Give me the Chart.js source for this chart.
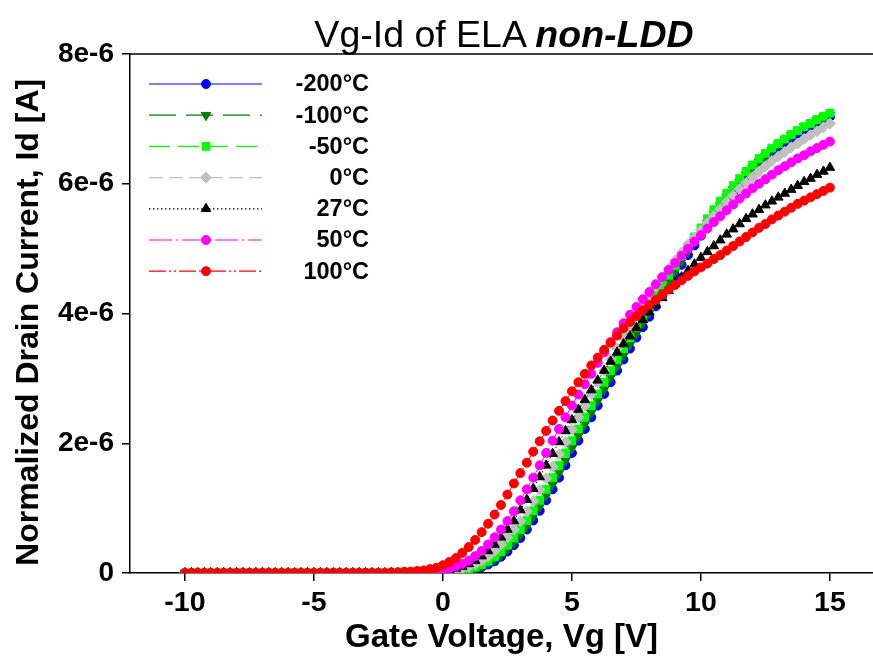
<!DOCTYPE html>
<html>
<head>
<meta charset="utf-8">
<title>Vg-Id of ELA non-LDD</title>
<script src="https://cdn.jsdelivr.net/npm/chart.js@4.4.1/dist/chart.umd.min.js"></script>
<style>
  body { margin: 0; background: #fff; }
  #wrap { position: relative; width: 873px; height: 664px; }
  canvas { display: block; }
  #title {
    position: absolute; left: 504px; top: 15px; transform: translateX(-50%);
    white-space: nowrap; color: #000;
    font: 37.5px 'Liberation Sans', Arial, sans-serif; line-height: 38px;
  }
  #title b { font-style: italic; }
</style>
</head>
<body>
<div id="wrap">
  <canvas id="chart" width="873" height="664"></canvas>
  <div id="title">Vg-Id of ELA <b>non-LDD</b></div>
</div>
<script>
// Gate voltage sweep [V]
const vg = [
  -10, -9.75, -9.5, -9.25, -9, -8.75, -8.5, -8.25,
  -8, -7.75, -7.5, -7.25, -7, -6.75, -6.5, -6.25,
  -6, -5.75, -5.5, -5.25, -5, -4.75, -4.5, -4.25,
  -4, -3.75, -3.5, -3.25, -3, -2.75, -2.5, -2.25,
  -2, -1.75, -1.5, -1.25, -1, -0.75, -0.5, -0.25,
  0, 0.25, 0.5, 0.75, 1, 1.25, 1.5, 1.75,
  2, 2.25, 2.5, 2.75, 3, 3.25, 3.5, 3.75,
  4, 4.25, 4.5, 4.75, 5, 5.25, 5.5, 5.75,
  6, 6.25, 6.5, 6.75, 7, 7.25, 7.5, 7.75,
  8, 8.25, 8.5, 8.75, 9, 9.25, 9.5, 9.75,
  10, 10.25, 10.5, 10.75, 11, 11.25, 11.5, 11.75,
  12, 12.25, 12.5, 12.75, 13, 13.25, 13.5, 13.75,
  14, 14.25, 14.5, 14.75, 15
];

// Normalized drain current, in units of 1e-6 A (one array per temperature)
const id_m200 = [
  0, 0, 0, 0, 0, 0, 0, 0,
  0, 0, 0, 0, 0, 0, 0, 0,
  0, 0, 0, 0, 0, 0, 0, 0,
  0, 0, 0, 0, 0, 0, 0, 0,
  0, 0, 0, 0, 0, 0, 0, 0,
  .01, .01, .02, .03, .04, .06, .09, .13,
  .18, .25, .33, .43, .54, .67, .81, .96,
  1.12, 1.29, 1.47, 1.66, 1.85, 2.04, 2.22, 2.40,
  2.58, 2.76, 2.94, 3.12, 3.29, 3.46, 3.63, 3.79,
  3.95, 4.11, 4.27, 4.43, 4.59, 4.75, 4.90, 5.05,
  5.20, 5.34, 5.48, 5.61, 5.74, 5.86, 5.98, 6.09,
  6.19, 6.29, 6.38, 6.47, 6.55, 6.63, 6.70, 6.77,
  6.83, 6.89, 6.94, 6.99, 7.03
];
const id_m100 = [
  0, 0, 0, 0, 0, 0, 0, 0,
  0, 0, 0, 0, 0, 0, 0, 0,
  0, 0, 0, 0, 0, 0, 0, 0,
  0, 0, 0, 0, 0, 0, 0, 0,
  0, 0, 0, 0, 0, 0, 0, 0,
  .01, .01, .02, .03, .05, .07, .10, .15,
  .21, .28, .37, .47, .59, .72, .87, 1.02,
  1.19, 1.36, 1.54, 1.73, 1.92, 2.11, 2.29, 2.47,
  2.65, 2.83, 3.01, 3.18, 3.35, 3.52, 3.69, 3.85,
  4.01, 4.17, 4.33, 4.49, 4.65, 4.80, 4.95, 5.10,
  5.25, 5.39, 5.53, 5.66, 5.79, 5.91, 6.03, 6.14,
  6.24, 6.34, 6.43, 6.52, 6.60, 6.68, 6.75, 6.82,
  6.88, 6.93, 6.98, 7.02, 7.06
];
const id_m50 = [
  0, 0, 0, 0, 0, 0, 0, 0,
  0, 0, 0, 0, 0, 0, 0, 0,
  0, 0, 0, 0, 0, 0, 0, 0,
  0, 0, 0, 0, 0, 0, 0, 0,
  0, 0, 0, 0, 0, 0, 0, .01,
  .01, .02, .03, .04, .06, .09, .13, .18,
  .25, .33, .43, .54, .67, .81, .96, 1.12,
  1.29, 1.47, 1.66, 1.85, 2.04, 2.22, 2.40, 2.58,
  2.76, 2.94, 3.12, 3.29, 3.46, 3.63, 3.79, 3.95,
  4.12, 4.28, 4.44, 4.59, 4.74, 4.89, 5.04, 5.18,
  5.32, 5.46, 5.60, 5.73, 5.85, 5.97, 6.08, 6.19,
  6.29, 6.39, 6.47, 6.55, 6.62, 6.69, 6.76, 6.82,
  6.88, 6.93, 6.99, 7.04, 7.09
];
const id_0 = [
  0, 0, 0, 0, 0, 0, 0, 0,
  0, 0, 0, 0, 0, 0, 0, 0,
  0, 0, 0, 0, 0, 0, 0, 0,
  0, 0, 0, 0, 0, 0, 0, 0,
  0, 0, 0, 0, 0, 0, .01, .01,
  .02, .03, .05, .07, .10, .14, .19, .26,
  .34, .44, .55, .67, .80, .95, 1.11, 1.28,
  1.46, 1.64, 1.83, 2.02, 2.21, 2.40, 2.58, 2.76,
  2.94, 3.12, 3.29, 3.46, 3.63, 3.80, 3.96, 4.12,
  4.27, 4.42, 4.56, 4.69, 4.82, 4.94, 5.06, 5.17,
  5.28, 5.39, 5.50, 5.61, 5.72, 5.82, 5.92, 6.01,
  6.10, 6.19, 6.27, 6.35, 6.42, 6.49, 6.56, 6.62,
  6.69, 6.75, 6.81, 6.87, 6.93
];
const id_27 = [
  0, 0, 0, 0, 0, 0, 0, 0,
  0, 0, 0, 0, 0, 0, 0, 0,
  0, 0, 0, 0, 0, 0, 0, 0,
  0, 0, 0, 0, 0, 0, 0, 0,
  0, 0, 0, 0, 0, .01, .01, .02,
  .03, .05, .07, .10, .14, .19, .26, .34,
  .44, .55, .67, .80, .97, 1.13, 1.30, 1.48,
  1.66, 1.84, 2.02, 2.19, 2.36, 2.52, 2.67, 2.82,
  2.97, 3.12, 3.26, 3.40, 3.53, 3.65, 3.78, 3.90,
  4.02, 4.13, 4.24, 4.35, 4.46, 4.56, 4.66, 4.76,
  4.86, 4.95, 5.04, 5.13, 5.22, 5.30, 5.38, 5.46,
  5.53, 5.60, 5.67, 5.73, 5.79, 5.85, 5.91, 5.97,
  6.03, 6.08, 6.14, 6.19, 6.25
];
const id_50 = [
  0, 0, 0, 0, 0, 0, 0, 0,
  0, 0, 0, 0, 0, 0, 0, 0,
  0, 0, 0, 0, 0, 0, 0, 0,
  0, 0, 0, 0, 0, 0, 0, 0,
  0, 0, 0, 0, .01, .01, .02, .03,
  .05, .07, .10, .14, .19, .26, .34, .44,
  .55, .67, .80, .95, 1.12, 1.29, 1.47, 1.66,
  1.85, 2.04, 2.22, 2.40, 2.58, 2.75, 2.91, 3.07,
  3.24, 3.40, 3.56, 3.71, 3.85, 3.98, 4.10, 4.22,
  4.33, 4.45, 4.56, 4.67, 4.78, 4.89, 5.00, 5.11,
  5.21, 5.31, 5.41, 5.50, 5.59, 5.68, 5.77, 5.85,
  5.93, 6.00, 6.07, 6.14, 6.21, 6.27, 6.33, 6.39,
  6.44, 6.50, 6.55, 6.60, 6.65
];
const id_100 = [
  0, 0, 0, 0, 0, 0, 0, 0,
  0, 0, 0, 0, 0, 0, 0, 0,
  0, 0, 0, 0, 0, 0, 0, 0,
  0, 0, 0, 0, 0, 0, 0, 0,
  .01, .01, .02, .02, .03, .04, .06, .08,
  .12, .17, .23, .31, .40, .51, .63, .76,
  .90, 1.05, 1.21, 1.38, 1.54, 1.70, 1.87, 2.03,
  2.19, 2.35, 2.50, 2.65, 2.80, 2.94, 3.07, 3.20,
  3.32, 3.44, 3.55, 3.66, 3.77, 3.87, 3.96, 4.05,
  4.13, 4.21, 4.29, 4.37, 4.44, 4.51, 4.58, 4.65,
  4.71, 4.77, 4.84, 4.90, 4.97, 5.04, 5.11, 5.18,
  5.25, 5.32, 5.38, 5.45, 5.51, 5.57, 5.63, 5.69,
  5.74, 5.79, 5.84, 5.89, 5.94
];

const temps = ['-200°C', '-100°C', '-50°C', '0°C', '27°C', '50°C', '100°C'];
const xTicks = [-10, -5, 0, 5, 10, 15];
const yTicks = [0, 2, 4, 6, 8];
const yTickLabels = ['0', '2e-6', '4e-6', '6e-6', '8e-6'];

const series = [id_m200, id_m100, id_m50, id_0, id_27, id_50, id_100];

// look of each series, same order as temps
const styles = [
  { color: '#0000ff', point: 'circle', rot: 0, r: 4.5, dash: [] },
  { color: '#007f00', point: 'triangle', rot: 180, r: 5.5, dash: [27, 10] },
  { color: '#00ff00', point: 'rect', rot: 0, r: 5.5, dash: [21, 8] },
  { color: '#c0c0c0', point: 'rectRot', rot: 0, r: 5.5, dash: [14, 6] },
  { color: '#000000', point: 'triangle', rot: 0, r: 5.5, dash: [1.5, 2.5] },
  { color: '#ff00ff', point: 'circle', rot: 0, r: 4.5, dash: [23, 4, 2, 4] },
  { color: '#ff0000', point: 'circle', rot: 0, r: 4.5, dash: [17, 3, 2, 3, 2, 3] }
];

const FONT = "'Liberation Sans', Arial, sans-serif";
Chart.defaults.font.family = FONT;
Chart.defaults.color = '#000';

// top frame line and the legend box drawn like the original plot
const framePlugin = {
  id: 'frame',
  afterDraw(chart) {
    const { ctx, chartArea } = chart;
    ctx.save();
    ctx.strokeStyle = '#000';
    ctx.lineWidth = 1.5;
    ctx.beginPath();
    ctx.moveTo(chartArea.left, chartArea.top);
    ctx.lineTo(chartArea.right, chartArea.top);
    ctx.stroke();

    chart.data.datasets.forEach((ds, i) => {
      const y = 84 + i * 31.2;
      ctx.setLineDash(ds.borderDash);
      ctx.lineWidth = 1.2;
      ctx.strokeStyle = ds.borderColor;
      ctx.beginPath();
      ctx.moveTo(149, y);
      ctx.lineTo(262, y);
      ctx.stroke();
      ctx.setLineDash([]);
      ctx.fillStyle = ds.pointBackgroundColor;
      ctx.strokeStyle = ds.pointBorderColor;
      ctx.lineWidth = 1;
      Chart.helpers.drawPoint(ctx, {
        pointStyle: ds.pointStyle, rotation: ds.pointRotation,
        radius: ds.pointRadius, borderWidth: 1
      }, 206, y);
      ctx.fillStyle = '#000';
      ctx.font = 'bold 23.5px ' + FONT;
      ctx.textAlign = 'right';
      ctx.textBaseline = 'middle';
      ctx.fillText(ds.label, 369, y + 1);
    });
    ctx.restore();
  }
};

new Chart(document.getElementById('chart'), {
  type: 'scatter',
  data: {
    datasets: series.map((s, i) => ({
      label: temps[i],
      data: vg.map((v, j) => ({ x: v, y: s[j] })),
      showLine: true,
      borderColor: styles[i].color,
      backgroundColor: styles[i].color,
      borderWidth: 1,
      borderDash: styles[i].dash,
      pointStyle: styles[i].point,
      pointRotation: styles[i].rot,
      pointRadius: styles[i].r,
      pointBackgroundColor: styles[i].color,
      pointBorderColor: styles[i].color,
      pointBorderWidth: 1,
      order: series.length - 1 - i  // 100°C drawn on top
    }))
  },
  options: {
    responsive: false,
    animation: false,
    devicePixelRatio: 1,
    layout: { autoPadding: false, padding: { top: 54, right: 0, left: 0, bottom: 0 } },
    plugins: {
      legend: { display: false },
      title: { display: false },
      tooltip: { enabled: false }
    },
    scales: {
      x: {
        type: 'linear',
        min: -12.13,
        max: 16.67,
        afterBuildTicks: s => { s.ticks = xTicks.map(v => ({ value: v })); },
        afterFit: s => { s.height = 91; },
        ticks: { color: '#000', font: { size: 28.5, weight: 'bold' }, padding: 5, maxRotation: 0 },
        grid: { drawOnChartArea: false, color: '#000', tickLength: 8, lineWidth: 1.5 },
        border: { color: '#000', width: 1.5 },
        title: {
          display: true, text: 'Gate Voltage, Vg [V]', color: '#000',
          font: { size: 33, weight: 'bold' }, padding: { top: 0, bottom: 6 }
        }
      },
      y: {
        min: 0,
        max: 8,
        afterBuildTicks: s => { s.ticks = yTicks.map(v => ({ value: v })); },
        afterFit: s => { s.width = 130; },
        ticks: {
          color: '#000', font: { size: 28, weight: 'bold' }, padding: 8,
          callback: (v, i) => yTickLabels[i]
        },
        grid: { drawOnChartArea: false, color: '#000', tickLength: 8, lineWidth: 1.5 },
        border: { color: '#000', width: 1.5 },
        title: {
          display: true, text: 'Normalized Drain Current, Id [A]  ', color: '#000',
          font: { size: 32, weight: 'bold' }, padding: { top: 10, bottom: 0 }
        }
      }
    }
  },
  plugins: [framePlugin]
});
</script>
</body>
</html>
